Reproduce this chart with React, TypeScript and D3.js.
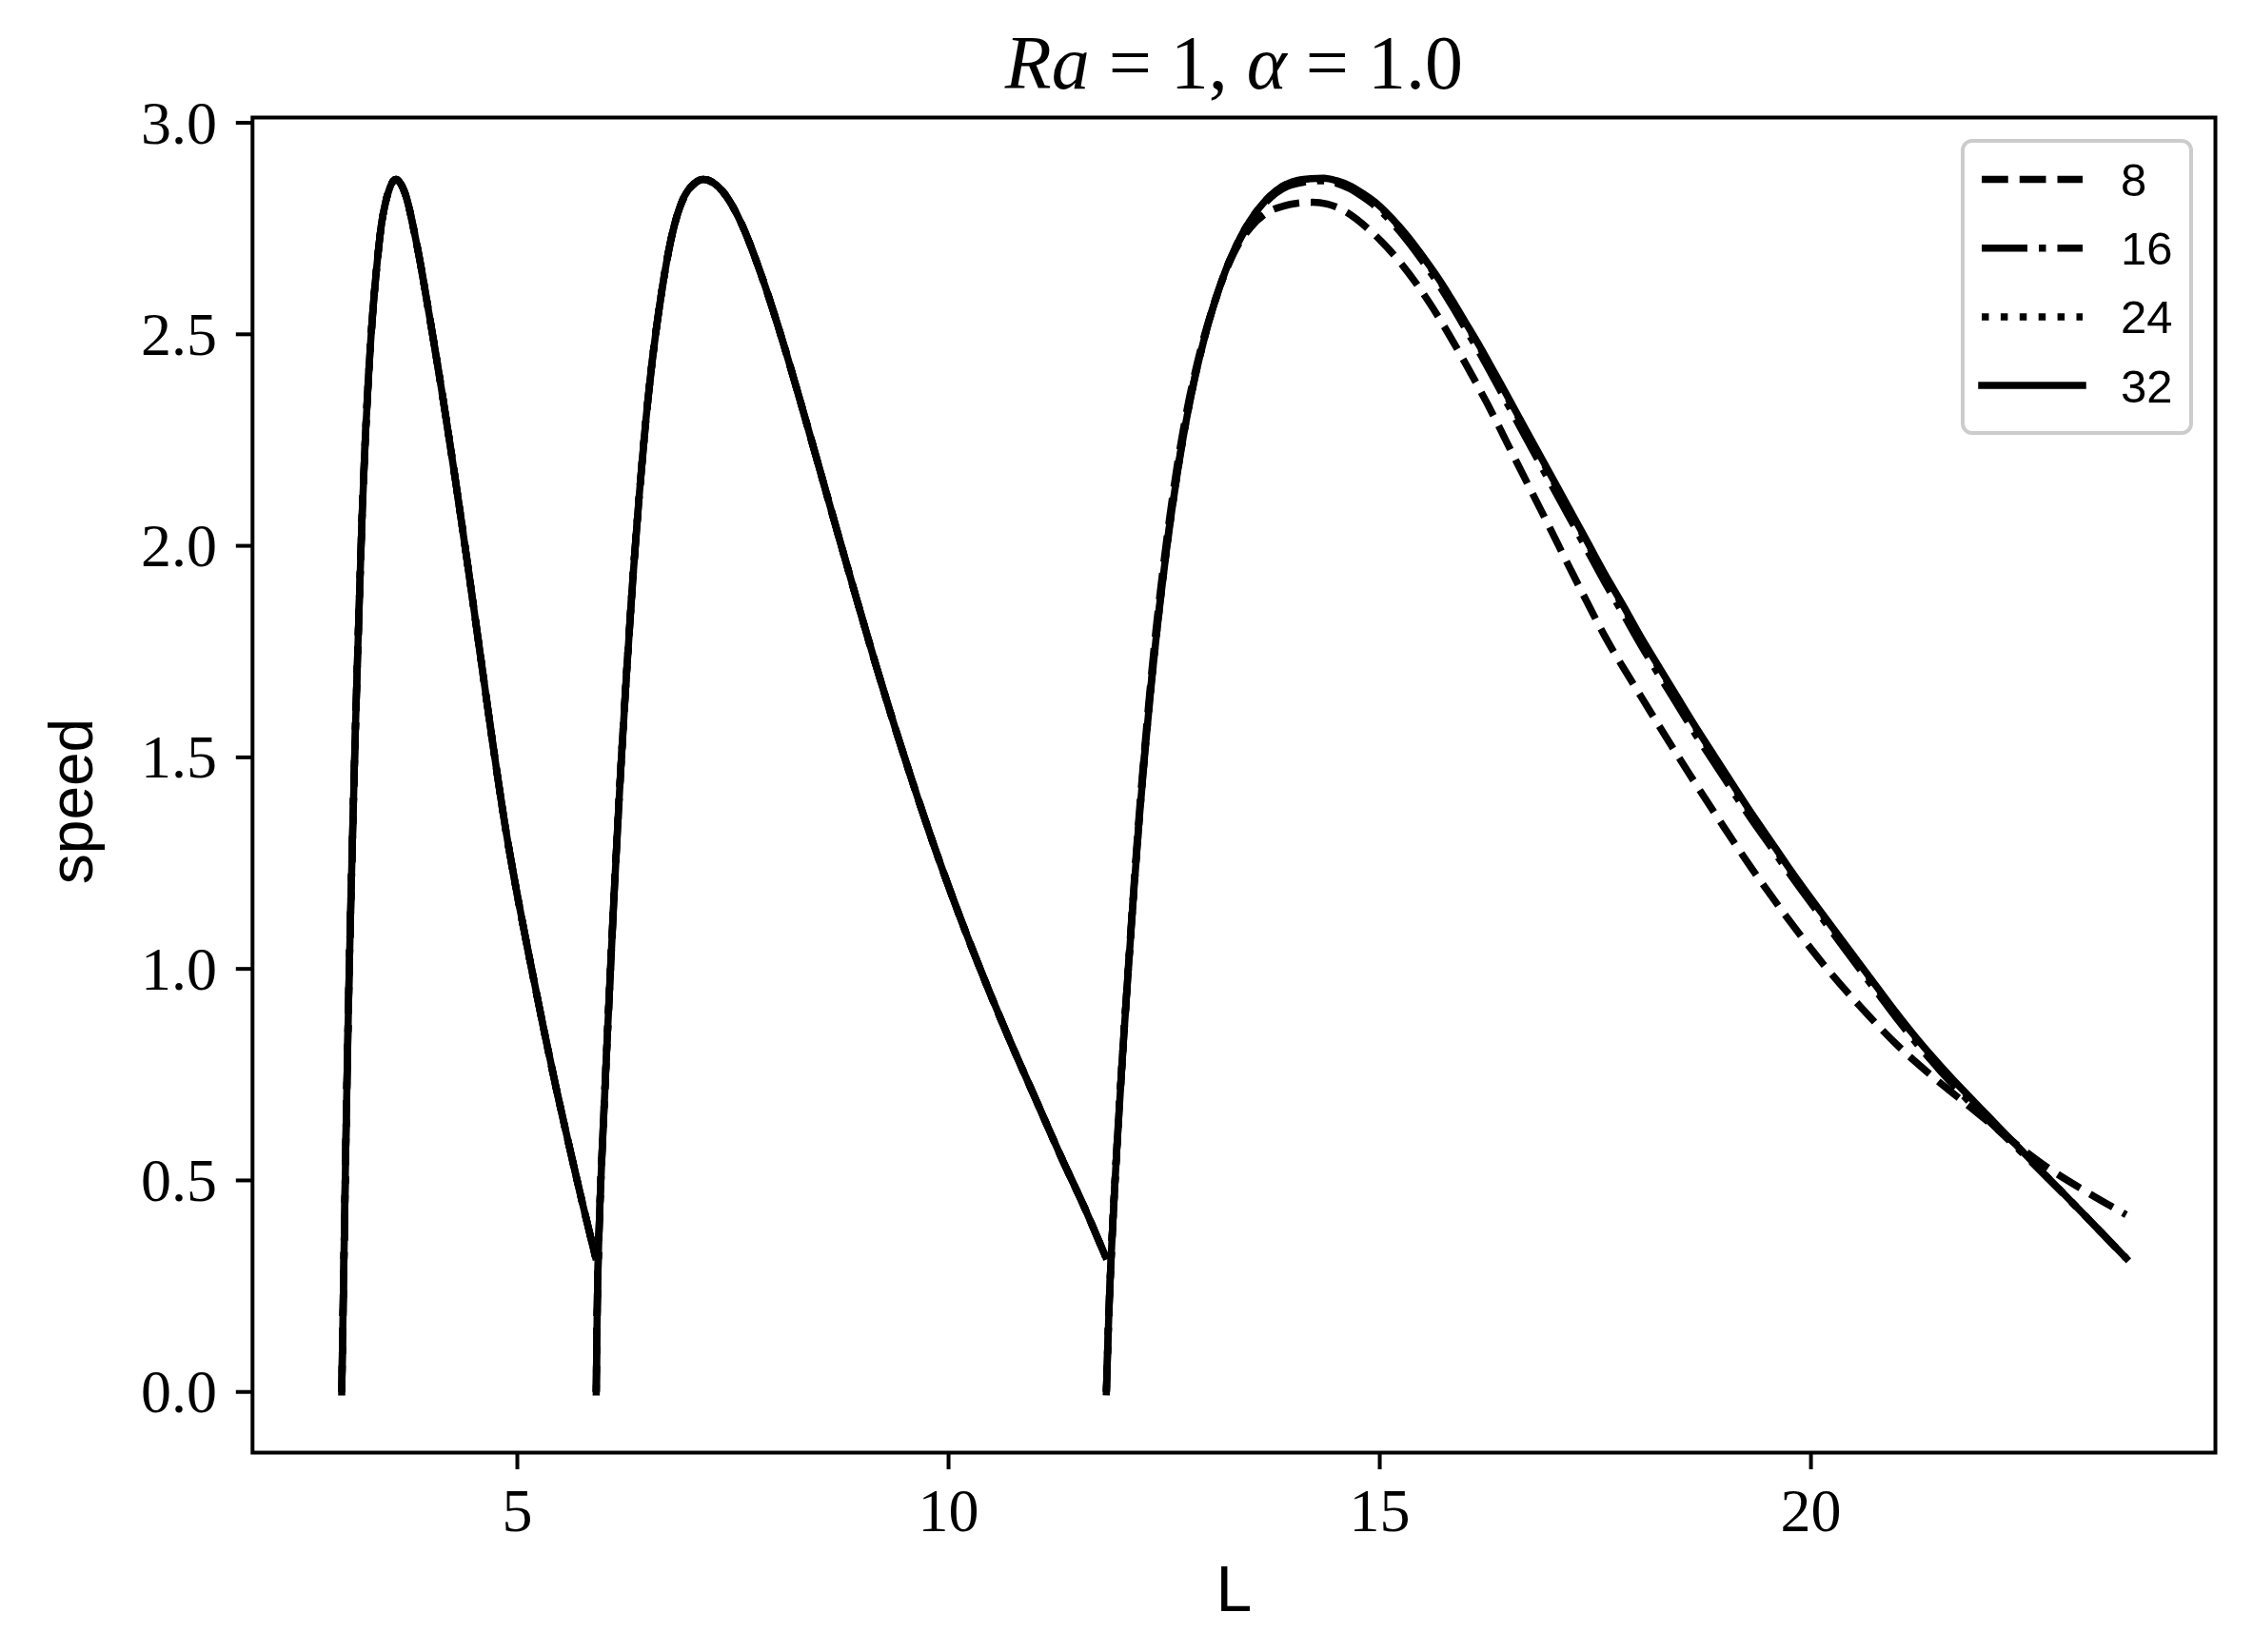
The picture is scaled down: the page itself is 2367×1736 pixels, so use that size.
import React from 'react';
import * as d3 from 'd3';

// ---------- data ----------
// lobes 1 and 2 are shared by all four resolutions (they coincide)
const lobe1L = [2.964, 2.98, 2.998, 3.016, 3.05, 3.09, 3.125, 3.164, 3.2, 3.238, 3.28, 3.326, 3.375, 3.423, 3.47, 3.519, 3.56, 3.593, 3.7, 3.829, 3.977, 4.125, 4.273, 4.421, 4.569, 4.717, 4.865, 5.013, 5.161, 5.309, 5.457, 5.605, 5.753, 5.905];
const lobe1S = [0, 0.2, 0.42, 0.64, 0.99, 1.32, 1.585, 1.845, 2.07, 2.257, 2.42, 2.558, 2.67, 2.758, 2.81, 2.845, 2.862, 2.866, 2.832, 2.718, 2.548, 2.365, 2.168, 1.96, 1.745, 1.53, 1.33, 1.16, 1.005, 0.855, 0.712, 0.578, 0.448, 0.32];

const lobe2L = [5.915, 5.921, 5.93, 5.943, 5.96, 5.99, 6.048, 6.122, 6.196, 6.27, 6.344, 6.418, 6.492, 6.566, 6.677, 6.788, 6.936, 7.05, 7.158, 7.38, 7.602, 7.824, 8.045, 8.267, 8.489, 8.711, 8.933, 9.155, 9.377, 9.598, 9.82, 10.042, 10.264, 10.486, 10.708, 11.004, 11.3, 11.596, 11.818];
const lobe2S = [0, 0.12, 0.24, 0.35, 0.455, 0.6, 0.86, 1.175, 1.46, 1.71, 1.935, 2.13, 2.3, 2.44, 2.605, 2.73, 2.826, 2.856, 2.866, 2.838, 2.76, 2.643, 2.505, 2.352, 2.193, 2.033, 1.875, 1.72, 1.572, 1.432, 1.298, 1.172, 1.053, 0.94, 0.832, 0.695, 0.558, 0.427, 0.321];

// lobe 3 abscissae shared by resolutions 16, 24 and 32
const lobe3L = [11.83, 11.845, 11.865, 11.895, 11.95, 12.022, 12.085, 12.149, 12.21, 12.276, 12.34, 12.403, 12.465, 12.53, 12.59, 12.657, 12.72, 12.783, 12.87, 12.953, 13.04, 13.122, 13.23, 13.333, 13.44, 13.545, 13.67, 13.799, 13.93, 14.052, 14.2, 14.349, 14.5, 14.645, 14.81, 14.983, 15.15, 15.321, 15.49, 15.66, 15.83, 15.998, 16.17, 16.337, 16.55, 16.76, 16.97, 17.183, 17.395, 17.606, 17.82, 18.029, 18.24, 18.452, 18.66, 18.875, 19.087, 19.298, 19.51, 19.721, 19.93, 20.144, 20.355, 20.567, 20.78, 20.99, 21.2, 21.413, 21.625, 21.836, 22.05, 22.259, 22.47, 22.682, 22.895, 23.105, 23.38, 23.655];

// lobe 3, resolution 32 (solid)
const lobe3S_32 = [0, 0.1, 0.22, 0.36, 0.57, 0.81, 1.0, 1.185, 1.35, 1.51, 1.65, 1.775, 1.887, 1.995, 2.085, 2.177, 2.255, 2.325, 2.41, 2.48, 2.545, 2.598, 2.66, 2.708, 2.75, 2.783, 2.815, 2.84, 2.856, 2.864, 2.868, 2.869, 2.863, 2.852, 2.832, 2.806, 2.772, 2.732, 2.687, 2.638, 2.584, 2.527, 2.468, 2.407, 2.328, 2.25, 2.172, 2.093, 2.014, 1.935, 1.86, 1.784, 1.713, 1.642, 1.573, 1.505, 1.438, 1.372, 1.309, 1.246, 1.186, 1.127, 1.069, 1.011, 0.953, 0.896, 0.842, 0.791, 0.743, 0.698, 0.653, 0.609, 0.565, 0.52, 0.476, 0.432, 0.374, 0.316];

// lobe 3, resolution 24 (dotted, almost hidden under 32)
const lobe3S_24 = [0, 0.1, 0.22, 0.36, 0.57, 0.81, 1.0, 1.185, 1.35, 1.51, 1.65, 1.775, 1.887, 1.995, 2.085, 2.177, 2.255, 2.325, 2.41, 2.48, 2.545, 2.598, 2.66, 2.708, 2.75, 2.783, 2.815, 2.84, 2.856, 2.863, 2.867, 2.868, 2.862, 2.851, 2.83, 2.804, 2.77, 2.73, 2.685, 2.636, 2.582, 2.524, 2.465, 2.404, 2.325, 2.247, 2.169, 2.09, 2.011, 1.932, 1.857, 1.781, 1.71, 1.639, 1.57, 1.502, 1.435, 1.369, 1.306, 1.243, 1.183, 1.124, 1.066, 1.008, 0.95, 0.893, 0.839, 0.788, 0.74, 0.695, 0.651, 0.607, 0.564, 0.52, 0.476, 0.432, 0.374, 0.316];

// lobe 3, resolution 16 (dash-dot)
const lobe3S_16 = [0, 0.1, 0.22, 0.36, 0.57, 0.81, 1.002, 1.188, 1.354, 1.515, 1.655, 1.78, 1.892, 2.0, 2.09, 2.181, 2.259, 2.328, 2.412, 2.482, 2.546, 2.598, 2.659, 2.706, 2.746, 2.779, 2.81, 2.834, 2.85, 2.857, 2.862, 2.863, 2.857, 2.845, 2.824, 2.797, 2.762, 2.721, 2.675, 2.625, 2.57, 2.512, 2.452, 2.39, 2.31, 2.231, 2.152, 2.073, 1.994, 1.915, 1.84, 1.765, 1.694, 1.624, 1.555, 1.488, 1.422, 1.357, 1.296, 1.234, 1.175, 1.116, 1.057, 0.999, 0.941, 0.884, 0.83, 0.779, 0.731, 0.686, 0.643, 0.602, 0.561, 0.518, 0.475, 0.432, 0.374, 0.316];

// lobe 3, resolution 8 (dashed)
const lobe3L_8 = [11.83, 11.845, 11.865, 11.895, 11.95, 12.022, 12.085, 12.149, 12.21, 12.276, 12.34, 12.403, 12.465, 12.53, 12.59, 12.657, 12.72, 12.783, 12.87, 12.953, 13.04, 13.122, 13.23, 13.333, 13.5, 13.68, 13.88, 14.05, 14.22, 14.39, 14.56, 14.9, 15.237, 15.575, 15.914, 16.252, 16.59, 16.929, 17.267, 17.606, 18.029, 18.452, 18.875, 19.298, 19.721, 20.144, 20.567, 20.99, 21.413, 21.836, 22.259, 22.682, 23.17, 23.655];
const lobe3S_8 = [0, 0.1, 0.22, 0.36, 0.57, 0.81, 1.005, 1.195, 1.364, 1.525, 1.668, 1.797, 1.908, 2.015, 2.105, 2.197, 2.272, 2.34, 2.42, 2.487, 2.548, 2.6, 2.657, 2.702, 2.752, 2.786, 2.803, 2.81, 2.812, 2.808, 2.795, 2.743, 2.67, 2.575, 2.46, 2.334, 2.197, 2.06, 1.922, 1.788, 1.644, 1.505, 1.371, 1.242, 1.122, 1.011, 0.912, 0.822, 0.745, 0.675, 0.605, 0.539, 0.476, 0.419];

const seriesLabels = ['8', '16', '24', '32'];
const seriesDash = ['27.75,12', '48,12,7.5,12', '7.5,12.4', null];

const xTicks = [5, 10, 15, 20];
const yTicks = [0, 0.5, 1.0, 1.5, 2.0, 2.5, 3.0];

// ---------- layout ----------
const W = 2367;
const H = 1736;
const AX = { left: 265.3, right: 2327.5, top: 123.5, bottom: 1526.5 };
const LW = 7.5;
const SERIF = "'Liberation Serif', 'DejaVu Serif', serif";
const SANS = "'Liberation Sans', 'DejaVu Sans', sans-serif";

type Pt = [number, number];
const zipPts = (L: number[], S: number[]): Pt[] => L.map((l, i) => [l, S[i]] as Pt);

export default function App() {
  const lobe3 = [
    [lobe3L_8, lobe3S_8],
    [lobe3L, lobe3S_16],
    [lobe3L, lobe3S_24],
    [lobe3L, lobe3S_32],
  ];
  const series = seriesLabels.map((label, i) => ({
    label,
    dash: seriesDash[i],
    lobes: [
      zipPts(lobe1L, lobe1S),
      zipPts(lobe2L, lobe2S),
      zipPts(lobe3[i][0], lobe3[i][1]),
    ],
  }));

  const allPts = series.flatMap((s) => s.lobes.flat());
  const [l0, l1] = d3.extent(allPts, (p) => p[0]) as [number, number];
  const [s0, s1] = d3.extent(allPts, (p) => p[1]) as [number, number];
  const lp = 0.05 * (l1 - l0);
  const sp = 0.05 * (s1 - s0);

  const x = d3.scaleLinear().domain([l0 - lp, l1 + lp]).range([AX.left, AX.right]);
  const y = d3.scaleLinear().domain([s0 - sp, s1 + sp]).range([AX.bottom, AX.top]);

  const line = d3
    .line<Pt>()
    .x((d) => x(d[0]))
    .y((d) => y(d[1]))
    .curve(d3.curveMonotoneX);

  const fmt = d3.format('.1f');
  const cx = (AX.left + AX.right) / 2;
  const cy = (AX.top + AX.bottom) / 2;

  const legX = 2062;
  const legY = 148;
  const legW = 240;
  const legH = 307;
  const rowY0 = 188.5;
  const rowDY = 72.2;

  return (
    <svg
      width={W}
      height={H}
      viewBox={`0 0 ${W} ${H}`}
      style={{ position: 'absolute', left: 0, top: 0, background: '#fff' }}
    >
      <rect x={0} y={0} width={W} height={H} fill="#fff" />
      <defs>
        <clipPath id="axclip">
          <rect x={AX.left} y={AX.top} width={AX.right - AX.left} height={AX.bottom - AX.top} />
        </clipPath>
      </defs>

      {/* title */}
      <text x={cx} y={93} textAnchor="middle" fontFamily={SERIF} fontSize={80} fill="#000">
        <tspan fontStyle="italic">Ra</tspan>
        <tspan> = 1, </tspan>
        <tspan fontStyle="italic">α</tspan>
        <tspan> = 1.0</tspan>
      </text>

      {/* curves */}
      <g clipPath="url(#axclip)">
        {series.map((s) =>
          s.lobes.map((pts, j) => (
            <path
              key={`${s.label}-${j}`}
              d={line(pts) || ''}
              fill="none"
              stroke="#000"
              strokeWidth={LW}
              strokeDasharray={s.dash || undefined}
              strokeLinecap={s.dash ? 'butt' : 'square'}
              strokeLinejoin="round"
            />
          ))
        )}
      </g>

      {/* spines */}
      <rect
        x={AX.left}
        y={AX.top}
        width={AX.right - AX.left}
        height={AX.bottom - AX.top}
        fill="none"
        stroke="#000"
        strokeWidth={4}
        strokeLinejoin="miter"
      />

      {/* x ticks */}
      {xTicks.map((t) => (
        <g key={`xt${t}`}>
          <line x1={x(t)} x2={x(t)} y1={AX.bottom} y2={AX.bottom + 17.5} stroke="#000" strokeWidth={4} />
          <text x={x(t)} y={1609} textAnchor="middle" fontFamily={SERIF} fontSize={64} fill="#000">
            {String(t)}
          </text>
        </g>
      ))}

      {/* y ticks */}
      {yTicks.map((t) => (
        <g key={`yt${t}`}>
          <line x1={AX.left - 17.5} x2={AX.left} y1={y(t)} y2={y(t)} stroke="#000" strokeWidth={4} />
          <text x={228} y={y(t) + 21.5} textAnchor="end" fontFamily={SERIF} fontSize={64} fill="#000">
            {fmt(t)}
          </text>
        </g>
      ))}

      {/* axis labels */}
      <text x={cx} y={1693} textAnchor="middle" fontFamily={SANS} fontSize={68} fill="#000">
        L
      </text>
      <text
        transform={`translate(97, ${cy + 17}) rotate(-90)`}
        textAnchor="middle"
        fontFamily={SANS}
        fontSize={64}
        fill="#000"
      >
        speed
      </text>

      {/* legend */}
      <rect
        x={legX}
        y={legY}
        width={legW}
        height={legH}
        rx={10}
        ry={10}
        fill="#fff"
        fillOpacity={0.8}
        stroke="#cccccc"
        strokeWidth={4}
      />
      {series.map((s, i) => {
        const ry = rowY0 + i * rowDY;
        return (
          <g key={`leg${s.label}`}>
            <line
              x1={2082}
              x2={2188}
              y1={ry}
              y2={ry}
              stroke="#000"
              strokeWidth={LW}
              strokeDasharray={s.dash || undefined}
              strokeLinecap={s.dash ? 'butt' : 'square'}
            />
            <text x={2228} y={ry + 17.5} fontFamily={SANS} fontSize={49} fill="#000">
              {s.label}
            </text>
          </g>
        );
      })}
    </svg>
  );
}
